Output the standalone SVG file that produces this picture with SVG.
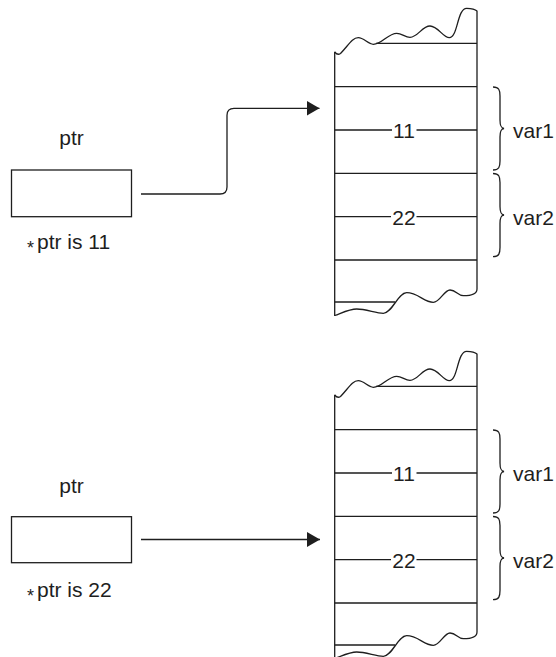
<svg xmlns="http://www.w3.org/2000/svg" width="556" height="657" viewBox="0 0 556 657">
<style>
.ln{fill:none;stroke:#1e1e1e;stroke-width:1.3}
.tx{font-family:"Liberation Sans",Arial,sans-serif;font-size:21px;fill:#1e1e1e}
.mid{text-anchor:middle}
</style>
<defs>
<marker id="arr" markerUnits="userSpaceOnUse" markerWidth="14" markerHeight="16" refX="13" refY="7.5" orient="auto">
<path d="M0,0 L13,7.5 L0,15 Z" fill="#1e1e1e"/>
</marker>
<g id="mem">
<path class="ln" d="M334.7,51.7 V316 M477,10.7 V289"/>
<path class="ln" d="M334.7,52 Q337.5,55.5 340.5,53.5 C348,46 352,37.7 358.3,37.7 C364,37.7 368,44.3 373.3,44.3 C382,44.3 388,33.3 396.7,33.3 C402,33.3 405,37.3 410,37.3 C418,37.3 422,26 430,26 C438,26 443,37.7 449.3,37.7 C458,37.7 457,8.3 466.7,8.3 C472,8.3 475,9 477,11"/>
<path class="ln" d="M334.7,315.5 C344,312 350,309 356.7,309 C366,309 376,313.3 383.3,313.3 C392,313.3 398,292.7 406.7,292.7 C418,292.7 424,302.3 433.3,302.3 C440,302.3 444,290 450,290 C456,290 458,295.7 463.3,295.7 C472,295.7 477,294 477,289"/>
<path class="ln" d="M376,43.3 H477 M334.7,86.7 H477 M334.7,130 H392 M416.5,130 H477 M334.7,173.3 H477 M334.7,216.7 H391 M416.5,216.7 H477 M334.7,260 H477 M334.7,302 H395"/>
<path class="ln" d="M493,87 C499,87 500,90 500,96 L500,120 C500,126 501,128 504,128.5 C501,129 500,131 500,137 L500,161 C500,167 499,170 493,170"/>
<path class="ln" d="M493,173.5 C499,173.5 500,176.5 500,182.5 L500,206.5 C500,212.5 501,214.5 504,215 C501,215.5 500,217.5 500,223.5 L500,247.5 C500,253.5 499,256.7 493,256.7"/>
<text class="tx mid" x="404" y="137.5">11</text>
<text class="tx mid" x="404" y="224.5">22</text>
<text class="tx" x="513" y="137.5">var1</text>
<text class="tx" x="513" y="224.5">var2</text>
</g>
</defs>
<g id="memory-top"><use href="#mem"/></g>
<g id="memory-bottom"><use href="#mem" transform="translate(0,343)"/></g>
<g id="ptr-top">
<text class="tx mid" x="71.5" y="145">ptr</text>
<rect class="ln" x="11.5" y="170" width="120" height="46.7"/>
<text class="tx" x="27" y="249"><tspan font-size="18" dy="5">*</tspan><tspan dx="3" dy="-5">ptr is 11</tspan></text>
</g>
<g id="ptr-bottom">
<text class="tx mid" x="71.5" y="493">ptr</text>
<rect class="ln" x="11.5" y="516.7" width="120" height="46"/>
<text class="tx" x="27" y="597"><tspan font-size="18" dy="5">*</tspan><tspan dx="3" dy="-5">ptr is 22</tspan></text>
</g>
<g id="connectors">
<path class="ln" marker-end="url(#arr)" d="M141,194 H220 Q227,194 227,187 V115.3 Q227,108.3 234,108.3 H319.5"/>
<path class="ln" marker-end="url(#arr)" d="M141,539.5 H320"/>
</g>
</svg>
